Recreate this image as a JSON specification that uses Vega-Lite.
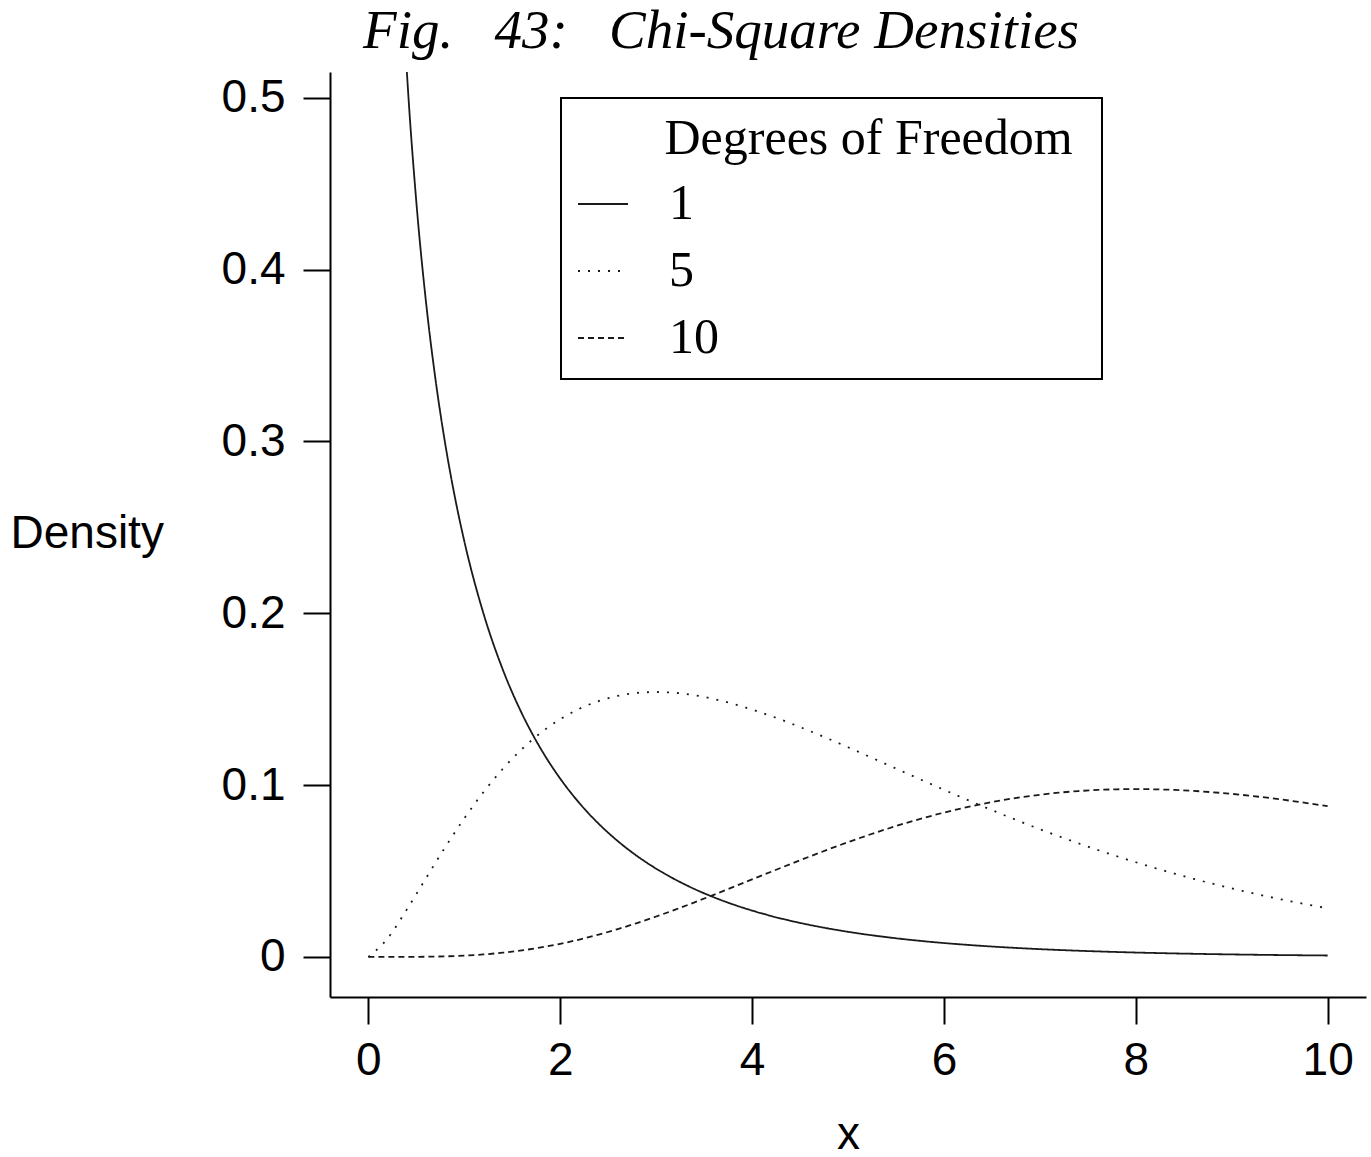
{
  "$schema": "https://vega.github.io/schema/vega-lite/v6.json",
  "width": 1036,
  "height": 925,
  "autosize": {"type": "none"},
  "padding": {"left": 330, "top": 72, "right": 5, "bottom": 160},
  "background": "white",
  "title": {
    "text": "Fig.\u00a0\u00a0\u00a043:\u00a0\u00a0\u00a0Chi-Square Densities",
    "font": "Liberation Serif",
    "fontStyle": "italic",
    "fontWeight": "normal",
    "fontSize": 55,
    "color": "black",
    "anchor": "middle",
    "dx": -127,
    "offset": 12
  },
  "config": {
    "view": {"stroke": null},
    "legend": {"strokeWidth": 2},
    "axis": {
      "grid": false,
      "domainColor": "black",
      "domainWidth": 2,
      "tickColor": "black",
      "tickWidth": 2,
      "tickSize": 27,
      "labelFont": "Liberation Sans",
      "labelFontSize": 46,
      "labelColor": "black",
      "titleFont": "Liberation Sans",
      "titleFontSize": 46,
      "titleFontWeight": "normal",
      "titleColor": "black"
    }
  },
  "datasets": {
    "curves": [
      {"df": "1", "x": 0.1, "density": 1.20004},
      {"df": "1", "x": 0.2, "density": 0.80718},
      {"df": "1", "x": 0.3, "density": 0.62691},
      {"df": "1", "x": 0.4, "density": 0.51644},
      {"df": "1", "x": 0.5, "density": 0.43939},
      {"df": "1", "x": 0.6, "density": 0.38154},
      {"df": "1", "x": 0.7, "density": 0.33602},
      {"df": "1", "x": 0.8, "density": 0.29898},
      {"df": "1", "x": 0.9, "density": 0.26814},
      {"df": "1", "x": 1.0, "density": 0.24197},
      {"df": "1", "x": 1.2, "density": 0.19987},
      {"df": "1", "x": 1.4, "density": 0.16743},
      {"df": "1", "x": 1.6, "density": 0.14171},
      {"df": "1", "x": 1.8, "density": 0.12089},
      {"df": "1", "x": 2.0, "density": 0.10378},
      {"df": "1", "x": 2.2, "density": 0.08953},
      {"df": "1", "x": 2.4, "density": 0.07756},
      {"df": "1", "x": 2.6, "density": 0.06743},
      {"df": "1", "x": 2.8, "density": 0.05879},
      {"df": "1", "x": 3.0, "density": 0.05139},
      {"df": "1", "x": 3.2, "density": 0.04503},
      {"df": "1", "x": 3.4, "density": 0.03952},
      {"df": "1", "x": 3.6, "density": 0.03476},
      {"df": "1", "x": 3.8, "density": 0.03061},
      {"df": "1", "x": 4.0, "density": 0.02700},
      {"df": "1", "x": 4.2, "density": 0.02384},
      {"df": "1", "x": 4.4, "density": 0.02107},
      {"df": "1", "x": 4.6, "density": 0.01865},
      {"df": "1", "x": 4.8, "density": 0.01652},
      {"df": "1", "x": 5.0, "density": 0.01465},
      {"df": "1", "x": 5.2, "density": 0.01299},
      {"df": "1", "x": 5.4, "density": 0.01154},
      {"df": "1", "x": 5.6, "density": 0.01025},
      {"df": "1", "x": 5.8, "density": 0.00911},
      {"df": "1", "x": 6.0, "density": 0.00811},
      {"df": "1", "x": 6.2, "density": 0.00722},
      {"df": "1", "x": 6.4, "density": 0.00643},
      {"df": "1", "x": 6.6, "density": 0.00573},
      {"df": "1", "x": 6.8, "density": 0.00511},
      {"df": "1", "x": 7.0, "density": 0.00455},
      {"df": "1", "x": 7.2, "density": 0.00406},
      {"df": "1", "x": 7.4, "density": 0.00363},
      {"df": "1", "x": 7.6, "density": 0.00324},
      {"df": "1", "x": 7.8, "density": 0.00289},
      {"df": "1", "x": 8.0, "density": 0.00258},
      {"df": "1", "x": 8.2, "density": 0.00231},
      {"df": "1", "x": 8.4, "density": 0.00206},
      {"df": "1", "x": 8.6, "density": 0.00185},
      {"df": "1", "x": 8.8, "density": 0.00165},
      {"df": "1", "x": 9.0, "density": 0.00148},
      {"df": "1", "x": 9.2, "density": 0.00132},
      {"df": "1", "x": 9.4, "density": 0.00118},
      {"df": "1", "x": 9.6, "density": 0.00106},
      {"df": "1", "x": 9.8, "density": 0.00095},
      {"df": "1", "x": 10.0, "density": 0.00085},
      {"df": "5", "x": 0.0, "density": 0.0},
      {"df": "5", "x": 0.2, "density": 0.010762},
      {"df": "5", "x": 0.4, "density": 0.027544},
      {"df": "5", "x": 0.6, "density": 0.045786},
      {"df": "5", "x": 0.8, "density": 0.063783},
      {"df": "5", "x": 1.0, "density": 0.080657},
      {"df": "5", "x": 1.2, "density": 0.095937},
      {"df": "5", "x": 1.4, "density": 0.109389},
      {"df": "5", "x": 1.6, "density": 0.12093},
      {"df": "5", "x": 1.8, "density": 0.130567},
      {"df": "5", "x": 2.0, "density": 0.138369},
      {"df": "5", "x": 2.2, "density": 0.144444},
      {"df": "5", "x": 2.4, "density": 0.14892},
      {"df": "5", "x": 2.6, "density": 0.151938},
      {"df": "5", "x": 2.8, "density": 0.153644},
      {"df": "5", "x": 3.0, "density": 0.15418},
      {"df": "5", "x": 3.2, "density": 0.15369},
      {"df": "5", "x": 3.4, "density": 0.152303},
      {"df": "5", "x": 3.6, "density": 0.150146},
      {"df": "5", "x": 3.8, "density": 0.147335},
      {"df": "5", "x": 4.0, "density": 0.143976},
      {"df": "5", "x": 4.2, "density": 0.140167},
      {"df": "5", "x": 4.4, "density": 0.135994},
      {"df": "5", "x": 4.6, "density": 0.131538},
      {"df": "5", "x": 4.8, "density": 0.126866},
      {"df": "5", "x": 5.0, "density": 0.122042},
      {"df": "5", "x": 5.2, "density": 0.11712},
      {"df": "5", "x": 5.4, "density": 0.112147},
      {"df": "5", "x": 5.6, "density": 0.107164},
      {"df": "5", "x": 5.8, "density": 0.102206},
      {"df": "5", "x": 6.0, "density": 0.097304},
      {"df": "5", "x": 6.2, "density": 0.092483},
      {"df": "5", "x": 6.4, "density": 0.087764},
      {"df": "5", "x": 6.6, "density": 0.083163},
      {"df": "5", "x": 6.8, "density": 0.078695},
      {"df": "5", "x": 7.0, "density": 0.074371},
      {"df": "5", "x": 7.2, "density": 0.0702},
      {"df": "5", "x": 7.4, "density": 0.066185},
      {"df": "5", "x": 7.6, "density": 0.06233},
      {"df": "5", "x": 7.8, "density": 0.058639},
      {"df": "5", "x": 8.0, "density": 0.055113},
      {"df": "5", "x": 8.2, "density": 0.05175},
      {"df": "5", "x": 8.4, "density": 0.048549},
      {"df": "5", "x": 8.6, "density": 0.045508},
      {"df": "5", "x": 8.8, "density": 0.042619},
      {"df": "5", "x": 9.0, "density": 0.039887},
      {"df": "5", "x": 9.2, "density": 0.037301},
      {"df": "5", "x": 9.4, "density": 0.034857},
      {"df": "5", "x": 9.6, "density": 0.032553},
      {"df": "5", "x": 9.8, "density": 0.030382},
      {"df": "5", "x": 10.0, "density": 0.028335},
      {"df": "10", "x": 0.0, "density": 0.0},
      {"df": "10", "x": 0.2, "density": 0.0000019},
      {"df": "10", "x": 0.4, "density": 0.0000273},
      {"df": "10", "x": 0.6, "density": 0.000125},
      {"df": "10", "x": 0.8, "density": 0.000358},
      {"df": "10", "x": 1.0, "density": 0.00079},
      {"df": "10", "x": 1.2, "density": 0.001482},
      {"df": "10", "x": 1.4, "density": 0.002484},
      {"df": "10", "x": 1.6, "density": 0.003834},
      {"df": "10", "x": 1.8, "density": 0.005557},
      {"df": "10", "x": 2.0, "density": 0.007664},
      {"df": "10", "x": 2.2, "density": 0.010153},
      {"df": "10", "x": 2.4, "density": 0.013012},
      {"df": "10", "x": 2.6, "density": 0.016216},
      {"df": "10", "x": 2.8, "density": 0.019736},
      {"df": "10", "x": 3.0, "density": 0.023533},
      {"df": "10", "x": 3.2, "density": 0.027566},
      {"df": "10", "x": 3.4, "density": 0.031787},
      {"df": "10", "x": 3.6, "density": 0.036151},
      {"df": "10", "x": 3.8, "density": 0.040608},
      {"df": "10", "x": 4.0, "density": 0.045112},
      {"df": "10", "x": 4.2, "density": 0.049615},
      {"df": "10", "x": 4.4, "density": 0.054076},
      {"df": "10", "x": 4.6, "density": 0.058451},
      {"df": "10", "x": 4.8, "density": 0.062704},
      {"df": "10", "x": 5.0, "density": 0.066801},
      {"df": "10", "x": 5.2, "density": 0.070711},
      {"df": "10", "x": 5.4, "density": 0.074408},
      {"df": "10", "x": 5.6, "density": 0.077869},
      {"df": "10", "x": 5.8, "density": 0.081076},
      {"df": "10", "x": 6.0, "density": 0.084016},
      {"df": "10", "x": 6.2, "density": 0.086674},
      {"df": "10", "x": 6.4, "density": 0.089046},
      {"df": "10", "x": 6.6, "density": 0.091126},
      {"df": "10", "x": 6.8, "density": 0.092911},
      {"df": "10", "x": 7.0, "density": 0.094405},
      {"df": "10", "x": 7.2, "density": 0.095612},
      {"df": "10", "x": 7.4, "density": 0.096535},
      {"df": "10", "x": 7.6, "density": 0.097179},
      {"df": "10", "x": 7.8, "density": 0.09756},
      {"df": "10", "x": 8.0, "density": 0.097685},
      {"df": "10", "x": 8.2, "density": 0.097564},
      {"df": "10", "x": 8.4, "density": 0.097214},
      {"df": "10", "x": 8.6, "density": 0.096645},
      {"df": "10", "x": 8.8, "density": 0.095865},
      {"df": "10", "x": 9.0, "density": 0.094904},
      {"df": "10", "x": 9.2, "density": 0.093765},
      {"df": "10", "x": 9.4, "density": 0.09246},
      {"df": "10", "x": 9.6, "density": 0.091017},
      {"df": "10", "x": 9.8, "density": 0.089438},
      {"df": "10", "x": 10.0, "density": 0.087734}
    ]
  },
  "data": {"name": "curves"},
  "mark": {
    "type": "line",
    "interpolate": "monotone",
    "clip": true,
    "strokeWidth": 1.8,
    "color": "#1a1a1a"
  },
  "encoding": {
    "x": {
      "field": "x",
      "type": "quantitative",
      "scale": {"domain": [-0.4, 10.4], "nice": false, "zero": false},
      "axis": {
        "values": [0, 2, 4, 6, 8, 10],
        "format": "d",
        "labelPadding": 14,
        "title": "x",
        "titleBaseline": "alphabetic",
        "titleY": 151
      }
    },
    "y": {
      "field": "density",
      "type": "quantitative",
      "scale": {"domain": [-0.0233, 0.515], "nice": false, "zero": false},
      "axis": {
        "values": [0, 0.1, 0.2, 0.3, 0.4, 0.5],
        "format": ".1~f",
        "labelPadding": 18,
        "title": "Density",
        "titleAngle": 0,
        "titleAlign": "left",
        "titleBaseline": "middle",
        "titleX": -320,
        "titleY": 461
      }
    },
    "strokeDash": {
      "field": "df",
      "type": "nominal",
      "scale": {
        "domain": ["1", "5", "10"],
        "range": [[1, 0], [2, 8], [6, 4]]
      },
      "legend": {
        "orient": "none",
        "legendX": 231,
        "legendY": 26,
        "title": "\u200b\u00a0\u00a0\u00a0\u00a0\u00a0\u00a0\u00a0Degrees of Freedom\u00a0\u200b",
        "titleLimit": 800,
        "titleFont": "Liberation Serif",
        "titleFontSize": 50,
        "titleFontWeight": "normal",
        "titleColor": "black",
        "titlePadding": 14,
        "labelFont": "Liberation Serif",
        "labelFontSize": 50,
        "labelColor": "black",
        "labelOffset": 40,
        "symbolType": "stroke",
        "symbolSize": 2500,
        "symbolStrokeWidth": 1.8,
        "symbolStrokeColor": "#1a1a1a",
        "rowPadding": 16,
        "padding": 16,
        "strokeColor": "black",
        "fillColor": "white"
      }
    }
  }
}
